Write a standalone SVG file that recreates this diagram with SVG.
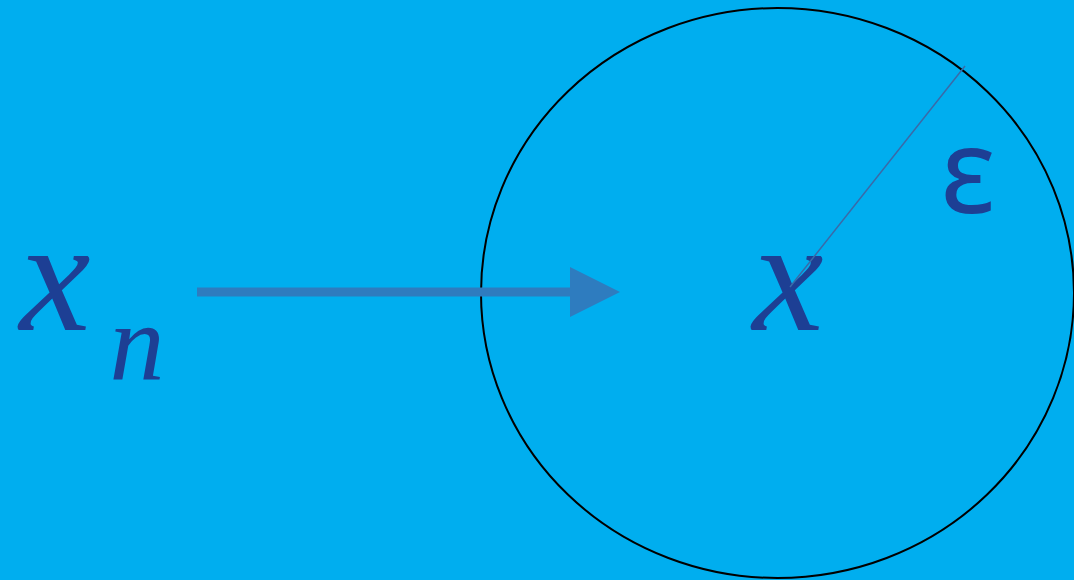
<svg xmlns="http://www.w3.org/2000/svg" width="1074" height="580" viewBox="0 0 1074 580">
<defs>
<style>
.m{font-family:"Liberation Serif","DejaVu Serif",serif;font-style:italic;fill:#1d3f94}
.e{font-family:"Noto Sans","DejaVu Sans",sans-serif;fill:#1d3f94}
</style>
</defs>
<rect width="1074" height="580" fill="#00aeef"/>
<g id="neighborhood">
<ellipse cx="777.5" cy="293" rx="296.5" ry="285" fill="none" stroke="#000" stroke-width="2"/>
</g>
<g id="xn">
<text class="m" x="55" y="330" font-size="160" text-anchor="middle">x</text>
<text class="m" x="137" y="380" font-size="110" text-anchor="middle">n</text>
</g>
<g id="x">
<text class="m" x="788" y="330" font-size="160" text-anchor="middle">x</text>
</g>
<g id="epsilon">
<text class="e" x="968" y="213" font-size="118" text-anchor="middle">ε</text>
</g>
<g id="connectors">
<line x1="197" y1="292" x2="572" y2="292" stroke="#2e7cbf" stroke-width="9"/>
<polygon points="570,267 620,292 570,317" fill="#2e7cbf"/>
<line x1="790" y1="287" x2="965" y2="66" stroke="#3a6aa8" stroke-width="1.5"/>
</g>
</svg>
